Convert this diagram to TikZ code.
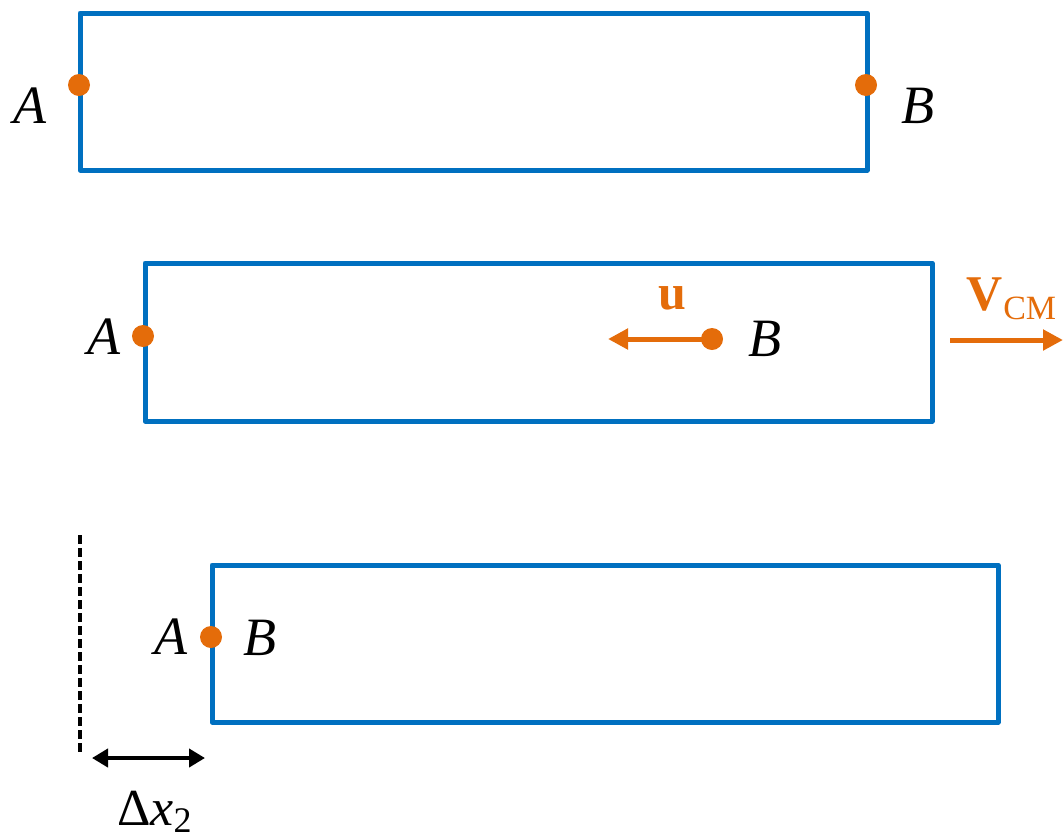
\documentclass[tikz,border=0pt]{standalone}
\usepackage{fontspec}
\setmainfont{Liberation Serif}
\usetikzlibrary{arrows.meta}
\definecolor{rblue}{HTML}{0070C0}
\definecolor{rorange}{HTML}{E46C0A}
\tikzset{
  box/.style={draw=rblue, line width=5pt, line join=round},
  pt/.style={circle, fill=rorange, inner sep=0pt, minimum size=22pt},
  lab/.style={inner sep=0pt, font=\fontsize{54}{54}\selectfont\itshape},
  oarrow/.style={draw=rorange, line width=5pt, -{Triangle[length=20pt,width=20pt]}},
  barrow/.style={draw=black, line width=4pt, {Triangle[length=16pt,width=18pt]}-{Triangle[length=16pt,width=18pt]}},
}
\begin{document}
\begin{tikzpicture}[x=1pt,y=-1pt]
\useasboundingbox (0,0) rectangle (1063,839);
% row 1
\draw[box] (80,13) rectangle (867,170);
\node[pt] (a1) at (79,85) {};
\node[pt] (b1) at (866,85) {};
\node[lab] (la1) at (30,106) {A};
\node[lab] (lb1) at (918,106) {B};
% row 2
\draw[box] (145,263) rectangle (932,421);
\node[pt] (a2) at (143,336) {};
\node[pt] (b2) at (712,339) {};
\node[lab] (la2) at (104,337) {A};
\node[lab] (lb2) at (765,339) {B};
\coordinate (uend) at (608,339);
\draw[oarrow] (b2.center) -- (uend);
\node[inner sep=0pt, anchor=base, text=rorange, font=\fontsize{50}{50}\selectfont\bfseries] (lu) at (672,309) {u};
\coordinate (vs) at (950,340);
\coordinate (ve) at (1063,340);
\draw[oarrow] (vs) -- (ve);
\node[inner sep=0pt, anchor=base west, text=rorange, font=\fontsize{50}{50}\selectfont] (lv) at (966,310) {\textbf{V}\kern1pt\raisebox{-9pt}{\fontsize{34}{34}\selectfont CM}};
% row 3
\draw[box] (212,565) rectangle (998,722);
\node[pt] (a3) at (211,637) {};
\node[lab] (la3) at (171,637) {A};
\node[lab] (lb3) at (260,638) {B};
\coordinate (d1) at (80,535);
\coordinate (d2) at (80,753);
\draw[line width=4pt, dash pattern=on 9pt off 4pt] (d1) -- (d2);
\coordinate (x1) at (92,758);
\coordinate (x2) at (205,758);
\draw[barrow] (x1) -- (x2);
\node[inner sep=0pt, anchor=base west, font=\fontsize{52}{52}\selectfont] (ldx) at (117,825) {Δ\textit{x}\raisebox{-7pt}{\fontsize{36}{36}\selectfont 2}};
\end{tikzpicture}
\end{document}
